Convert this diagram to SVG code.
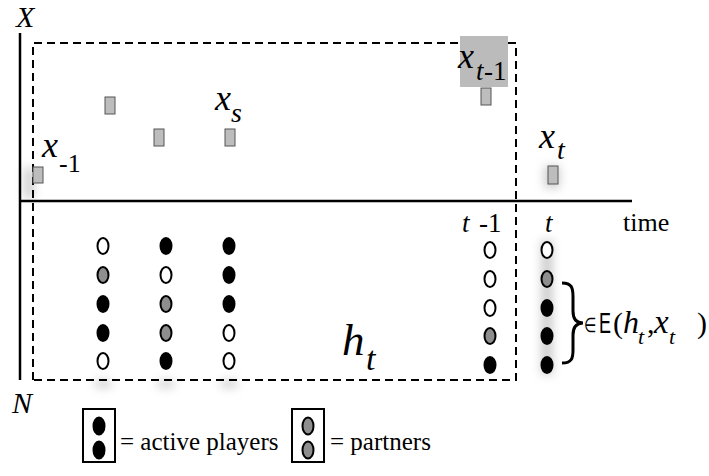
<svg xmlns="http://www.w3.org/2000/svg" width="709" height="476" viewBox="0 0 709 476" font-family="'Liberation Serif', 'Times New Roman', serif">
<defs>
<style>
.it{font-style:italic}
.pt{fill:#bdbdbd;stroke:#555;stroke-width:1}
.w{fill:#fff;stroke:#000;stroke-width:2}
.g{fill:#8e8e8e;stroke:#000;stroke-width:2}
.b{fill:#000;stroke:#000;stroke-width:2}
.dash{fill:none;stroke:#000;stroke-width:2;stroke-dasharray:8 5}
.ax{stroke:#000;stroke-width:2.5;fill:none}
</style>
<filter id="blur" x="-100%" y="-100%" width="300%" height="300%"><feGaussianBlur stdDeviation="5"/></filter>
</defs>
<g id="shadows" filter="url(#blur)" fill="#bbb" opacity="0.7">
<rect x="541" y="240" width="12" height="135"/>
<rect x="544" y="166" width="16" height="22"/>
<rect x="24" y="168" width="10" height="30"/>
<ellipse cx="103" cy="384" rx="10" ry="4"/>
<ellipse cx="166" cy="384" rx="10" ry="4"/>
<ellipse cx="229" cy="384" rx="10" ry="4"/>
</g>
<g id="axes">
<line class="ax" x1="20" y1="33" x2="20" y2="380"/>
<line class="ax" x1="20" y1="201" x2="632" y2="201"/>
<text class="it" x="16" y="27" font-size="30">X</text>
<text class="it" x="12" y="413" font-size="30">N</text>
<text x="623" y="231" font-size="26">time</text>
<text class="it" x="462" y="232" font-size="27">t</text>
<text x="479" y="232" font-size="27">-1</text>
<text class="it" x="545" y="232" font-size="27">t</text>
</g>
<g id="history-box">
<rect x="460" y="36" width="48" height="51" fill="#bbb"/>
<path class="dash" d="M33,380 L33,43 L460,43 M508,43 L516,43 L516,380 L33,380"/>
<text class="it" x="342" y="355" font-size="45">h</text>
<text class="it" x="366" y="370" font-size="34">t</text>
</g>
<g id="points">
<rect class="pt" x="33" y="167" width="10" height="16"/>
<rect class="pt" x="105" y="97" width="10" height="17"/>
<rect class="pt" x="154" y="129" width="10" height="17"/>
<rect class="pt" x="225" y="129" width="10" height="17"/>
<rect class="pt" x="481" y="88" width="10" height="17"/>
<rect class="pt" x="548" y="166" width="10" height="18"/>
</g>
<g id="point-labels">
<text class="it" x="42" y="157" font-size="36">x</text>
<text x="59" y="172" font-size="26">-1</text>
<text class="it" x="215" y="110" font-size="36">x</text>
<text class="it" x="231" y="122" font-size="28">s</text>
<text class="it" x="458" y="68" font-size="36">x</text>
<text class="it" x="476" y="80" font-size="27">t</text>
<text x="484" y="80" font-size="27">-1</text>
<text class="it" x="539" y="148" font-size="36">x</text>
<text class="it" x="557" y="159" font-size="28">t</text>
</g>
<g id="players">
<ellipse class="w" cx="103" cy="246" rx="5.5" ry="8"/>
<ellipse class="g" cx="103" cy="275" rx="5.5" ry="8"/>
<ellipse class="b" cx="103" cy="304" rx="5.5" ry="8"/>
<ellipse class="b" cx="103" cy="333" rx="5.5" ry="8"/>
<ellipse class="w" cx="103" cy="361" rx="5.5" ry="8"/>
<ellipse class="b" cx="166" cy="246" rx="5.5" ry="8"/>
<ellipse class="w" cx="166" cy="275" rx="5.5" ry="8"/>
<ellipse class="g" cx="166" cy="304" rx="5.5" ry="8"/>
<ellipse class="g" cx="166" cy="333" rx="5.5" ry="8"/>
<ellipse class="b" cx="166" cy="361" rx="5.5" ry="8"/>
<ellipse class="b" cx="229" cy="246" rx="5.5" ry="8"/>
<ellipse class="b" cx="229" cy="275" rx="5.5" ry="8"/>
<ellipse class="b" cx="229" cy="304" rx="5.5" ry="8"/>
<ellipse class="w" cx="229" cy="333" rx="5.5" ry="8"/>
<ellipse class="w" cx="229" cy="361" rx="5.5" ry="8"/>
<ellipse class="w" cx="490" cy="250" rx="5.5" ry="8"/>
<ellipse class="w" cx="490" cy="279" rx="5.5" ry="8"/>
<ellipse class="w" cx="490" cy="308" rx="5.5" ry="8"/>
<ellipse class="g" cx="490" cy="336" rx="5.5" ry="8"/>
<ellipse class="b" cx="490" cy="365" rx="5.5" ry="8"/>
<ellipse class="w" cx="547" cy="250" rx="5.5" ry="8"/>
<ellipse class="g" cx="547" cy="279" rx="5.5" ry="8"/>
<ellipse class="b" cx="547" cy="308" rx="5.5" ry="8"/>
<ellipse class="b" cx="547" cy="336" rx="5.5" ry="8"/>
<ellipse class="b" cx="547" cy="365" rx="5.5" ry="8"/>
</g>
<g id="equilibrium">
<path d="M562,283 C572,283 573,288 573,297 L573,311 C573,319 576,323 583,323 C576,323 573,327 573,335 L573,350 C573,358 572,363 562,363" fill="none" stroke="#000" stroke-width="3"/>
<text x="584" y="332" font-size="20" textLength="12" lengthAdjust="spacingAndGlyphs">∈</text>
<text x="599" y="333" font-size="29" font-family="'Liberation Sans', Arial, sans-serif" textLength="12" lengthAdjust="spacingAndGlyphs">E</text>
<text x="613" y="333" font-size="30">(</text>
<text class="it" x="623" y="333" font-size="32">h</text>
<text class="it" x="638" y="344" font-size="22">t</text>
<text x="647" y="333" font-size="30">,</text>
<text class="it" x="654" y="333" font-size="33">x</text>
<text class="it" x="669" y="344" font-size="22">t</text>
<text x="697" y="333" font-size="30">)</text>
</g>
<g id="legend">
<rect x="83" y="409" width="32" height="53" fill="#fff" stroke="#000" stroke-width="2"/>
<ellipse class="b" cx="99" cy="426" rx="5.5" ry="8.5"/>
<ellipse class="b" cx="99" cy="450" rx="5.5" ry="8.5"/>
<text x="120" y="450" font-size="25">= active players</text>
<rect x="292" y="409" width="32" height="53" fill="#fff" stroke="#000" stroke-width="2"/>
<ellipse class="g" cx="308" cy="426" rx="5.5" ry="8.5"/>
<ellipse class="g" cx="308" cy="450" rx="5.5" ry="8.5"/>
<text x="330" y="450" font-size="25">= partners</text>
</g>
</svg>
